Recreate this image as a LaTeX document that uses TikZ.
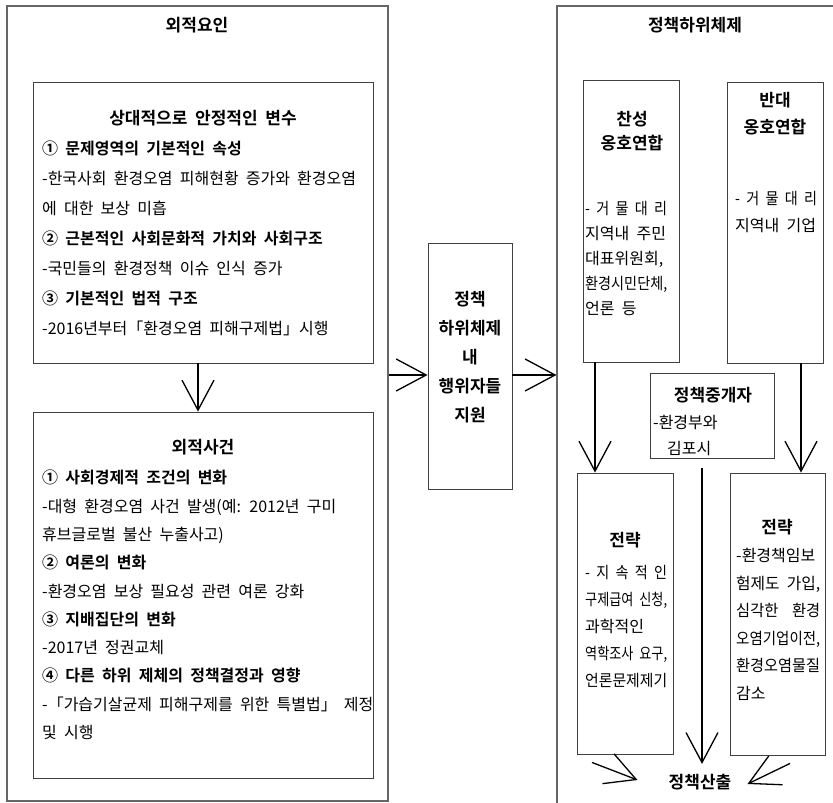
\documentclass[tikz,border=0pt]{standalone}
\usepackage{fontspec}
\setmainfont{Noto Sans CJK KR}[WordSpace=2, BoldFont={Noto Sans CJK KR Bold}]
\usetikzlibrary{arrows.meta}
\newcommand{\sq}[2][82pt]{\resizebox{#1}{\height}{#2}}

\begin{document}
\begin{tikzpicture}[x=1pt,y=-1pt,
	outer box/.style = {draw=black!60, line width=1.1pt, inner sep=0pt},
	inner box/.style = {draw=black!75, line width=0.9pt, inner sep=0pt},
	head/.style = {font=\bfseries\fontsize{17}{25}\selectfont, inner sep=0pt, align=center},
	body/.style = {font=\fontsize{16}{30}\selectfont, inner sep=0pt, align=left, anchor=north west},
	flow/.style = {-{Straight Barb[length=30pt,width=32pt]}, line width=1.3pt}]
	
	\useasboundingbox (0,0) rectangle (833,803);
	
	\node[outer box, minimum width=381pt, minimum height=795pt] (ext) at (197.5,403.5) {};
	\node[inner box, minimum width=340pt, minimum height=281pt] (stab) at (203,222.5) {};
	\node[inner box, minimum width=340pt, minimum height=366pt] (evt) at (203,595) {};
	\node[inner box, minimum width=84pt, minimum height=246pt] (res) at (470,366) {};
	\node[outer box, minimum width=320pt, minimum height=840pt] (sub) at (717,426) {};
	\node[inner box, minimum width=96pt, minimum height=282pt] (pro) at (631,221) {};
	\node[inner box, minimum width=96pt, minimum height=281pt] (con) at (775,222.5) {};
	\node[inner box, minimum width=124pt, minimum height=85pt] (brk) at (712,415.5) {};
	\node[inner box, minimum width=96pt, minimum height=281pt] (st1) at (625,613.5) {};
	\node[inner box, minimum width=95pt, minimum height=282pt] (st2) at (777.5,614) {};
	\coordinate (mid) at (470,375);
	
	\node[head] (extT) at (197,25) {외적요인};
	\node[head] (stabT) at (203,118) {상대적으로 안정적인 변수};
	\node[body] (stabB) at (42,141) {\textbf{① 문제영역의 기본적인 속성}\\
		-한국사회 환경오염 피해현황 증가와 환경오염\\
		에 대한 보상 미흡\\
		\textbf{② 근본적인 사회문화적 가치와 사회구조}\\
		-국민들의 환경정책 이슈 인식 증가\\
		\textbf{③ 기본적인 법적 구조}\\
		-2016년부터「환경오염 피해구제법」시행};
	\node[head] (evtT) at (203,447) {외적사건};
	\node[body, font=\fontsize{16}{28.3}\selectfont] (evtB) at (42,470) {\textbf{① 사회경제적 조건의 변화}\\
		-대형 환경오염 사건 발생(예: 2012년 구미\\
		휴브글로벌 불산 누출사고)\\
		\textbf{② 여론의 변화}\\
		-환경오염 보상 필요성 관련 여론 강화\\
		\textbf{③ 지배집단의 변화}\\
		-2017년 정권교체\\
		\textbf{④ 다른 하위 제체의 정책결정과 영향}\\
		-「가습기살균제 피해구제를 위한 특별법」 제정\\
		및 시행};
	
	\node[head, font=\bfseries\fontsize{17}{29}\selectfont] (resT) at (470,357) {정책\\하위체제\\내\\행위자들\\지원};
	
	\node[head] (subT) at (695,25) {정책하위체제};
	\node[head, font=\bfseries\fontsize{17}{24}\selectfont] (proT) at (632,131.5) {찬성\\옹호연합};
	\node[body, font=\fontsize{16}{25}\selectfont] (proB) at (585,201) {\sq{- 거 물 대 리}\\지역내 주민\\대표위원회,\\\sq{환경시민단체,}\\언론 등};
	\node[head, font=\bfseries\fontsize{17}{27}\selectfont] (conT) at (775,113.5) {반대\\옹호연합};
	\node[body, font=\fontsize{16}{27}\selectfont] (conB) at (735,191) {\sq{- 거 물 대 리}\\지역내 기업};
	\node[head] (brkT) at (713,395) {정책중개자};
	\node[body, font=\fontsize{16}{26}\selectfont] (brkB) at (653,415) {-환경부와\\\hspace*{14pt}김포시};
	\node[head] (st1T) at (625,540) {전략};
	\node[body, font=\fontsize{16}{27}\selectfont] (st1B) at (585,565) {\sq{- 지 속 적 인}\\\sq{구제급여 신청,}\\과학적인\\\sq{역학조사 요구,}\\\sq{언론문제제기}};
	\node[head] (st2T) at (777,527) {전략};
	\node[body, font=\fontsize{16}{27.6}\selectfont] (st2B) at (736,548) {-환경책임보\\\sq[84pt]{험제도 가입,}\\\sq[84pt]{심각한\ \ 환경}\\\sq[84pt]{오염기업이전,}\\\sq[84pt]{환경오염물질}\\감소};
	\node[head] (out) at (700,782) {정책산출};
	
	\draw[flow] (ext.east |- mid) -- (res.west |- mid);
	\draw[flow] (res.east |- mid) -- (sub.west |- mid);
	\draw[flow] ([xshift=-5pt]stab.south) -- ([xshift=-5pt]evt.north);
	\draw[flow] ([xshift=-36pt]pro.south) -- ([xshift=-30pt]st1.north);
	\draw[flow] ([xshift=26pt]con.south) -- ([xshift=23.5pt]st2.north);
	\draw[flow] ([xshift=-10pt,yshift=-10pt]brk.south) -- ([xshift=2pt,yshift=10pt]out.north);
	\draw[flow] ([xshift=-33pt,yshift=-8pt]st1.south) -- ([xshift=-31pt,yshift=2pt]out.west);
	\draw[flow] ([xshift=12.5pt,yshift=-8pt]st2.south) -- ([xshift=16pt,yshift=-2pt]out.east);
\end{tikzpicture}
\end{document}
